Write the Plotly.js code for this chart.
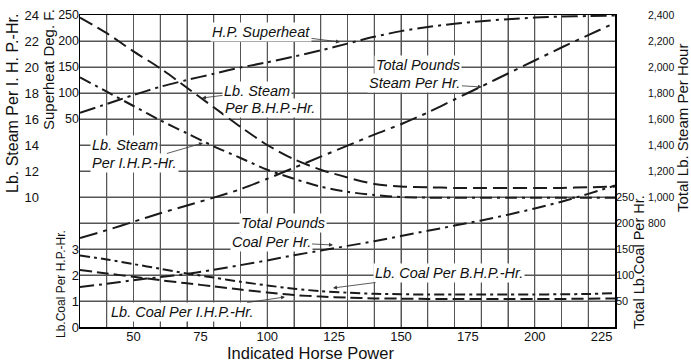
<!DOCTYPE html>
<html>
<head>
<meta charset="utf-8">
<script src="https://cdn.plot.ly/plotly-3.0.1.min.js"></script>
<style>
html,body{margin:0;padding:0;background:#fff;}
#chart{width:691px;height:362px;}
</style>
</head>
<body>
<div id="chart"></div>
<script>
// ---- data ----
const indicatedHP = [30,40,50,60,70,80,90,100,110,120,130,140,150,160,170,180,190,200,210,220,230];
const superheatDegF = [62,79,96,112,125,137,149,159,170,182,195,208,219,227,233,238,242,245,247,248,249];
const steamPerBHPHr = [23.8,22.6,21.2,19.9,18.4,16.9,15.4,14.0,12.9,12.1,11.5,11.0,10.8,10.75,10.7,10.7,10.7,10.7,10.7,10.75,10.8];
const steamPerIHPHr = [19.2,18.1,17.0,15.9,14.9,13.9,13.0,12.1,11.4,10.8,10.4,10.15,10.0,9.95,9.95,9.95,9.95,9.95,9.95,9.95,9.95];
const totalSteamPerHr = [685,745,810,875,935,995,1060,1140,1225,1310,1395,1480,1560,1650,1750,1850,1950,2050,2150,2245,2340];
const totalCoalPerHr = [77,83,90,96,102,110,119,128,138,147,156,165,175,185,195,205,216,228,241,256,272];
const coalPerBHPHr = [2.75,2.6,2.42,2.24,2.06,1.9,1.74,1.6,1.47,1.38,1.32,1.28,1.26,1.25,1.25,1.25,1.25,1.25,1.26,1.27,1.3];
const coalPerIHPHr = [2.19,2.06,1.93,1.8,1.68,1.56,1.44,1.33,1.23,1.17,1.13,1.1,1.09,1.08,1.08,1.08,1.08,1.08,1.08,1.09,1.1];

const xTickVals = [50,75,100,125,150,175,200,225];
const steamHpTicks = [10,12,14,16,18,20,22,24];
const superheatTicks = [50,100,150,200,250];
const coalHpTicks = [0,1,2,3];
const totalSteamTicks = [800,1000,1200,1400,1600,1800,2000,2200,2400];
const totalCoalTicks = [50,100,150,200,250];

// ---- geometry helpers (pixel -> paper) ----
const W = 691, H = 362, T = 15, B = 35;
const PH = H - T - B;
const px = v => v / W;
const py = v => (H - B - v) / PH;

const LINE = '#1a1a1a';
const GRID = '#555555';
const SANS = '"Liberation Sans", Arial, sans-serif';

function tr(y, axis, dash, name) {
  return {x: indicatedHP, y: y, yaxis: axis, mode: 'lines', name: name,
    line: {color: LINE, width: 2, dash: dash, shape: 'spline', smoothing: 0.8},
    hoverinfo: 'skip', showlegend: false};
}

const traces = [
  tr(superheatDegF, 'y2', '16px,5px,3px,5px', 'H.P. Superheat'),
  tr(steamPerBHPHr, 'y', '14px,6px', 'Lb. Steam Per B.H.P.-Hr.'),
  tr(steamPerIHPHr, 'y', '12px,5px,3px,5px', 'Lb. Steam Per I.H.P.-Hr.'),
  tr(totalSteamPerHr, 'y4', '18px,6px,4px,6px', 'Total Pounds Steam Per Hr.'),
  tr(totalCoalPerHr, 'y5', '14px,5px,3px,5px', 'Total Pounds Coal Per Hr.'),
  tr(coalPerBHPHr, 'y3', '10px,4px,3px,4px', 'Lb. Coal Per B.H.P.-Hr.'),
  tr(coalPerIHPHr, 'y3', '12px,5px', 'Lb. Coal Per I.H.P.-Hr.'),
  // carriers for the label-only axes
  {x: [], y: [], xaxis: 'x2', yaxis: 'y', showlegend: false, hoverinfo: 'skip'},
  {x: [], y: [], yaxis: 'y6', showlegend: false, hoverinfo: 'skip'}
];

const xDom = [80 / W, 615 / W];
const f = (size) => ({family: SANS, size: size, color: '#111'});

const layout = {
  width: W, height: H,
  margin: {l: 0, r: 0, t: T, b: B},
  paper_bgcolor: '#fff', plot_bgcolor: 'rgba(0,0,0,0)',
  showlegend: false,
  xaxis: {domain: xDom, range: [30, 230], tickmode: 'linear', tick0: 30, dtick: 10,
    showticklabels: false, ticks: '', showgrid: true, gridcolor: GRID, gridwidth: 1,
    showline: true, mirror: true, linecolor: '#000', linewidth: 1.5, zeroline: false},
  xaxis2: {overlaying: 'x', anchor: 'y', side: 'bottom', range: [30, 230],
    tickmode: 'array', tickvals: xTickVals, ticks: '', showgrid: false, zeroline: false,
    tickfont: f(13)},
  yaxis: {range: [0, 24], tickmode: 'linear', tick0: 0, dtick: 2, showticklabels: false,
    ticks: '', showgrid: true, gridcolor: GRID, gridwidth: 1, zeroline: false,
    showline: true, mirror: true, linecolor: '#000', linewidth: 1.5},
  yaxis2: {overlaying: 'y', anchor: 'x', side: 'left', range: [-350, 250],
    tickmode: 'array', tickvals: superheatTicks, ticks: '', showgrid: false, zeroline: false,
    tickfont: f(12.5)},
  yaxis3: {overlaying: 'y', anchor: 'x', side: 'left', range: [0, 12],
    tickmode: 'array', tickvals: coalHpTicks, ticks: '', showgrid: false, zeroline: false,
    tickfont: f(13)},
  yaxis4: {overlaying: 'y', anchor: 'free', position: 647 / W, side: 'right', range: [0, 2400],
    tickmode: 'array', tickvals: totalSteamTicks,
    ticktext: totalSteamTicks.map(v => v.toLocaleString('en-US')),
    ticks: '', showgrid: false, zeroline: false, showline: false, tickfont: f(10.5)},
  yaxis5: {overlaying: 'y', anchor: 'x', side: 'right', range: [0, 600],
    tickmode: 'array', tickvals: totalCoalTicks, ticks: '', showgrid: false, zeroline: false,
    tickfont: f(11)},
  yaxis6: {overlaying: 'y', anchor: 'free', position: 39 / W, side: 'left', range: [0, 24],
    tickmode: 'array', tickvals: steamHpTicks, ticks: '', showgrid: false, zeroline: false,
    showline: false, tickfont: f(13)},
  shapes: [],
  annotations: []
};

// grid (positions of the chart's ruling, drawn through the axes)
for (let v = 40; v < 230; v += 10) {
  layout.shapes.push({type: 'line', xref: 'x', yref: 'y', x0: v, x1: v, y0: 0, y1: 24,
    layer: 'below', line: {color: GRID, width: 1}});
}
for (let v = 2; v < 24; v += 2) {
  layout.shapes.push({type: 'line', xref: 'x', yref: 'y', x0: 30, x1: 230, y0: v, y1: v,
    layer: 'below', line: {color: GRID, width: 1}});
}

function axTitle(text, cx, cy, size, angle) {
  layout.annotations.push({text: text, xref: 'paper', yref: 'paper', x: px(cx), y: py(cy),
    showarrow: false, textangle: angle, xanchor: 'center', yanchor: 'middle',
    font: f(size)});
}
axTitle('Lb. Steam Per I. H. P.-Hr.', 12, 104, 16, -90);
axTitle('Superheat Deg. F.', 48, 70, 15, -90);
axTitle('Lb.Coal Per H.P.-Hr.', 61, 284, 12, -90);
axTitle('Total Lb.Coal Per Hr.', 639, 262, 14.5, -90);
axTitle('Total Lb. Steam Per Hour', 682, 128, 15, -90);
axTitle('Indicated Horse Power', 310, 353, 16.5, 0);

function label(text, cx, cy, tip) {
  const a = {text: text, xref: 'paper', yref: 'paper', xanchor: 'center', yanchor: 'middle',
    bgcolor: '#fff', borderpad: 1,
    font: {family: SANS, size: 14.5, color: '#111', style: 'italic'}};
  if (tip) {
    a.x = px(tip[0]); a.y = py(tip[1]);
    a.showarrow = true; a.ax = cx - tip[0]; a.ay = cy - tip[1];
    a.arrowhead = 2; a.arrowsize = 1; a.arrowwidth = 0.8; a.arrowcolor = '#333';
  } else {
    a.x = px(cx); a.y = py(cy); a.showarrow = false;
  }
  layout.annotations.push(a);
}
label('H.P. Superheat', 261, 32, [340, 42]);
label('Lb. Steam', 257, 91, [202, 98]);
label('Per B.H.P.-Hr.', 270, 108);
label('Total Pounds', 418, 65);
label('Steam Per Hr.', 415, 83, [482, 87]);
label('Lb. Steam', 125, 145);
label('Per I.H.P.-Hr.', 134, 163, [203, 143]);
label('Total Pounds', 283, 223);
label('Coal Per Hr.', 271, 242, [333, 245]);
label('Lb. Coal Per B.H.P.-Hr.', 449, 273, [333, 288]);
label('Lb. Coal Per I.H.P.-Hr.', 182, 312, [285, 297]);

Plotly.newPlot('chart', traces, layout, {staticPlot: true, displayModeBar: false});
</script>
</body>
</html>
